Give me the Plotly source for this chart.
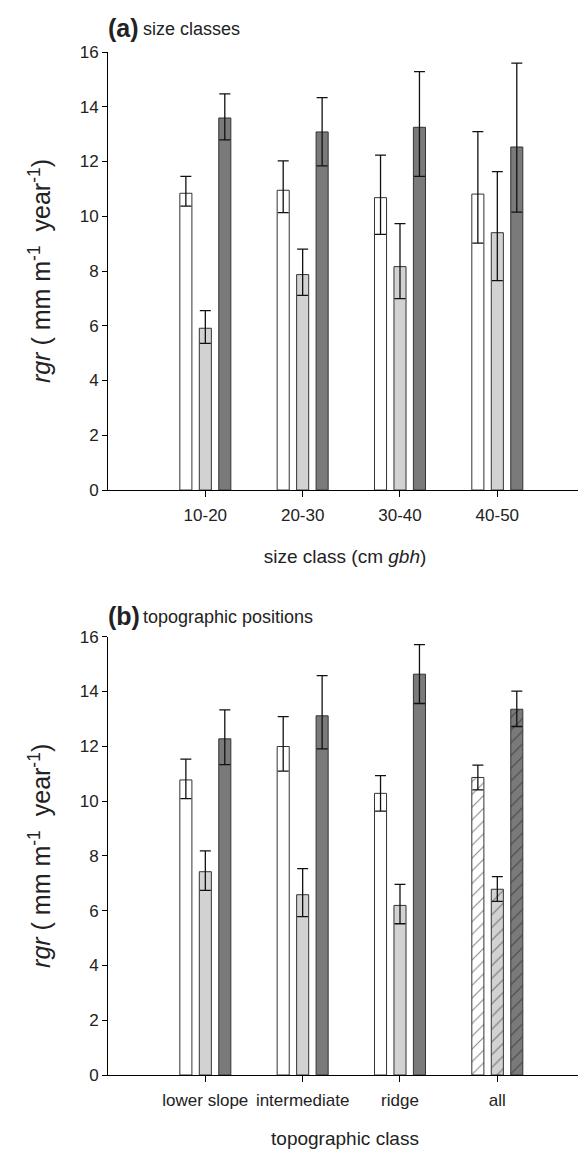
import plotly.graph_objects as go

# ---- data: panel (a) size classes ----
size_classes = ["10-20", "20-30", "30-40", "40-50"]
a_white = [10.84, 10.95, 10.68, 10.81]
a_white_up = [0.62, 1.07, 1.55, 2.28]
a_white_dn = [0.47, 0.82, 1.34, 1.79]
a_light = [5.91, 7.87, 8.16, 9.40]
a_light_up = [0.64, 0.93, 1.57, 2.23]
a_light_dn = [0.55, 0.76, 1.17, 1.75]
a_dark = [13.59, 13.08, 13.25, 12.53]
a_dark_up = [0.88, 1.25, 2.03, 3.06]
a_dark_dn = [0.80, 1.24, 1.79, 2.38]

# ---- data: panel (b) topographic positions ----
topo_classes = ["lower slope", "intermediate", "ridge", "all"]
b_white = [10.77, 11.99, 10.28, 10.86]
b_white_up = [0.76, 1.09, 0.65, 0.45]
b_white_dn = [0.68, 0.90, 0.65, 0.45]
b_light = [7.42, 6.58, 6.19, 6.78]
b_light_up = [0.76, 0.95, 0.77, 0.46]
b_light_dn = [0.68, 0.80, 0.67, 0.44]
b_dark = [12.27, 13.11, 14.63, 13.35]
b_dark_up = [1.06, 1.47, 1.08, 0.66]
b_dark_dn = [0.94, 1.21, 1.07, 0.63]
b_hatch = ["", "", "", "/"]

y_ticks = [0, 2, 4, 6, 8, 10, 12, 14, 16]

FILLS = ["#ffffff", "#d2d2d2", "#7a7a7a"]
FONT = "Liberation Sans, Arial, sans-serif"

# page geometry (px); the page body adds an 8px offset, so targets are shifted back
W, H = 586, 1149
OFF = 8
ML, MT = 108 - OFF, 52 - OFF
MR = W - (582 - OFF)
MB = H - (1075 - OFF)

fig = go.Figure()


def add_bars(cats, vals, ups, dns, color, xa, ya, hatch=None):
    marker = dict(color=color, line=dict(color="#333333", width=1))
    if hatch is not None:
        marker["pattern"] = dict(shape=hatch, fgcolor="#111111", size=9,
                                 solidity=0.12, fillmode="overlay")
    fig.add_trace(go.Bar(
        x=cats, y=vals, xaxis=xa, yaxis=ya, marker=marker, showlegend=False,
        error_y=dict(type="data", symmetric=False, array=ups, arrayminus=dns,
                     color="#111111", thickness=1.3, width=5.5),
    ))


add_bars(size_classes, a_white, a_white_up, a_white_dn, FILLS[0], "x", "y")
add_bars(size_classes, a_light, a_light_up, a_light_dn, FILLS[1], "x", "y")
add_bars(size_classes, a_dark, a_dark_up, a_dark_dn, FILLS[2], "x", "y")

add_bars(topo_classes, b_white, b_white_up, b_white_dn, FILLS[0], "x2", "y2", b_hatch)
add_bars(topo_classes, b_light, b_light_up, b_light_dn, FILLS[1], "x2", "y2", b_hatch)
add_bars(topo_classes, b_dark, b_dark_up, b_dark_dn, FILLS[2], "x2", "y2", b_hatch)

xcommon = dict(type="category", range=[-1.0, 3.87], showline=True, linecolor="black",
               linewidth=1, ticks="outside", ticklen=6, tickcolor="black",
               showgrid=False, zeroline=False, tickangle=0, automargin=False,
               tickfont=dict(size=17, color="#222"), ticklabelstandoff=4,
               title_font=dict(size=19, color="#222"))
ycommon = dict(range=[0, 16], tickvals=y_ticks, showline=True, linecolor="black",
               linewidth=1, ticks="outside", ticklen=5, tickcolor="black",
               showgrid=False, zeroline=False, automargin=False,
               tickfont=dict(size=17, color="#222"),
               title_font=dict(size=25, color="#222"), title_standoff=21)

ytitle = "<i>rgr</i> ( mm m<sup>-1</sup>  year<sup>-1</sup>)"

fig.update_layout(
    width=W, height=H,
    margin=dict(l=ML, r=MR, t=MT, b=MB),
    paper_bgcolor="white", plot_bgcolor="white",
    font=dict(family=FONT, color="#222"),
    barmode="group", bargap=0.4, bargroupgap=0.38,
    xaxis=dict(xcommon, domain=[0, 1], anchor="y", title_standoff=25,
               title_text="size class (cm <i>gbh</i>)"),
    yaxis=dict(ycommon, domain=[0.5718, 1.0], anchor="x", title_text=ytitle),
    xaxis2=dict(xcommon, domain=[0, 1], anchor="y2", title_standoff=22,
                title_text="topographic class"),
    yaxis2=dict(ycommon, domain=[0.0, 0.4285], anchor="x2", title_text=ytitle),
)


def px_x(x):
    return (x - OFF - ML) / (W - ML - MR)


def px_y(y):
    return (H - MB - (y - OFF)) / (H - MT - MB)


# panel titles
for label, text, ypx in [("(a)", "size classes", 28), ("(b)", "topographic positions", 616)]:
    fig.add_annotation(x=px_x(106), y=px_y(ypx), xref="paper", yref="paper",
                       xanchor="left", yanchor="middle", showarrow=False,
                       text=f"<b>{label}</b>", font=dict(size=25, color="#222"))
    fig.add_annotation(x=px_x(141), y=px_y(ypx + 1), xref="paper", yref="paper",
                       xanchor="left", yanchor="middle", showarrow=False,
                       text=text, font=dict(size=18, color="#222"))

fig.write_html("out.html")
